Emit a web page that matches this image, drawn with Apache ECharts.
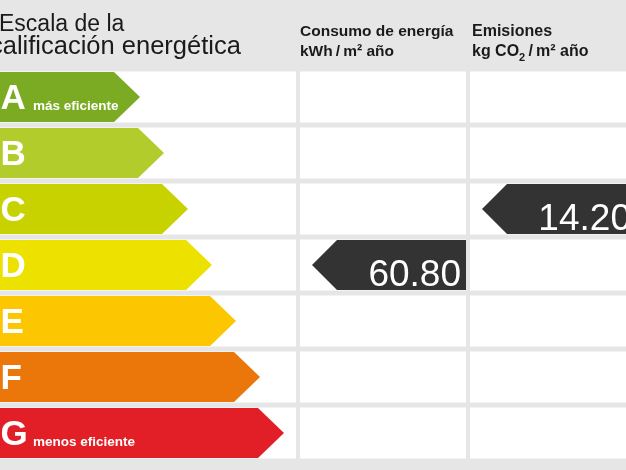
<!DOCTYPE html>
<html>
<head>
<meta charset="utf-8">
<script src="https://cdn.jsdelivr.net/npm/echarts@6/dist/echarts.min.js"></script>
<style>
  html, body { margin: 0; padding: 0; background: #e6e6e6; }
  #chart { width: 626px; height: 470px; }
</style>
</head>
<body>
<div id="chart"></div>
<script>
/* Escala de calificación energética */
const ratings = ['A', 'B', 'C', 'D', 'E', 'F', 'G'];
const ratingNotes = ['más eficiente', '', '', '', '', '', 'menos eficiente'];
// where each rating arrow ends on the scale (0 – 296)
const ratingReach = [140, 164, 188, 212, 236, 260, 284];
const indicators = ['Consumo de energía', 'Emisiones'];
const indicatorRatings = ['D', 'C'];
const indicatorValues = [60.80, 14.20];

const ratingColors = ['#7aab22', '#b2cc2c', '#c8d200', '#ede100', '#fcc600', '#eb7609', '#e21f26'];
const FONT = "'Liberation Sans', Arial, sans-serif";

const chart = echarts.init(document.getElementById('chart'));

function cellItem(params, api) {
  const c = api.coord([0, api.value(1)]);
  const band = api.size([0, 1])[1];
  const cs = params.coordSys;
  return {
    type: 'rect', silent: true,
    shape: { x: cs.x, y: c[1] - band / 2 + 2.5, width: cs.width, height: band - 5 },
    style: { fill: '#ffffff' }
  };
}

function ratingItem(params, api) {
  const idx = api.value(1);
  const tip = api.coord([api.value(0), idx]);
  const left = api.coord([0, idx])[0];
  const y = tip[1];
  const half = (api.size([0, 1])[1] - 6) / 2;
  const d = 26;
  const note = ratingNotes[params.dataIndex];
  return {
    type: 'group',
    children: [
      {
        type: 'polygon',
        shape: { points: [[left, y - half], [tip[0] - d, y - half], [tip[0], y], [tip[0] - d, y + half], [left, y + half]] },
        style: { fill: ratingColors[params.dataIndex] }
      },
      {
        type: 'text', x: left + 0.5, y: y + 2.5,
        style: { text: ratings[params.dataIndex], fill: '#fff', font: 'bold 35px ' + FONT, align: 'left', verticalAlign: 'middle' }
      },
      {
        type: 'text', x: left + 33, y: y + 9.7,
        style: { text: note, fill: '#fff', font: 'bold 13.5px ' + FONT, align: 'left', verticalAlign: 'middle' }
      }
    ]
  };
}

function markerItem(params, api) {
  const idx = api.value(1);
  const end = api.coord([api.value(0), idx]);
  const y = end[1];
  const half = (api.size([0, 1])[1] - 6) / 2;
  const tipX = params.coordSys.x + 12;
  const d = 25;
  return {
    type: 'group',
    children: [
      {
        type: 'polygon',
        shape: { points: [[tipX, y], [tipX + d, y - half], [end[0], y - half], [end[0], y + half], [tipX + d, y + half]] },
        style: { fill: '#333333' }
      },
      {
        type: 'text', x: end[0] - 5, y: y + 10.5,
        style: { text: api.value(2).toFixed(2), fill: '#fff', font: '37px ' + FONT, align: 'right', verticalAlign: 'middle' }
      }
    ]
  };
}

const cellData = ratings.map(r => [0, r]);
const grids = [
  { left: 0, top: 69, width: 296, height: 392 },
  { left: 300, top: 69, width: 166, height: 392 },
  { left: 470, top: 69, width: 156, height: 392 }
];

chart.setOption({
  backgroundColor: '#e6e6e6',
  animation: false,
  grid: grids,
  xAxis: [
    { gridIndex: 0, type: 'value', min: 0, max: 296, show: false },
    { gridIndex: 1, type: 'value', min: 0, max: 1, show: false },
    // the emissions column runs past the right edge of the picture
    { gridIndex: 2, type: 'value', min: 0, max: 0.94, show: false }
  ],
  yAxis: [0, 1, 2].map(g => ({ gridIndex: g, type: 'category', data: ratings, inverse: true, show: false })),
  graphic: [
    { type: 'text', x: -1, y: 24.3, style: { text: 'Escala de la', fill: '#1a1a1a', font: '23px ' + FONT, verticalAlign: 'middle' } },
    { type: 'text', x: -10, y: 47.3, style: { text: 'calificación energética', fill: '#1a1a1a', font: '25.5px ' + FONT, verticalAlign: 'middle' } },
    { type: 'text', x: 300, y: 32.2, style: { text: indicators[0], fill: '#1a1a1a', font: 'bold 15.5px ' + FONT, verticalAlign: 'middle' } },
    { type: 'text', x: 300, y: 52.2, style: { text: 'kWh\u2009/\u2009m² año', fill: '#1a1a1a', font: 'bold 15.5px ' + FONT, verticalAlign: 'middle' } },
    { type: 'text', x: 472, y: 31.9, style: { text: indicators[1], fill: '#1a1a1a', font: 'bold 16px ' + FONT, verticalAlign: 'middle' } },
    {
      type: 'text', x: 472, y: 52,
      style: {
        text: '{a|kg CO}{s|2}{a|\u2009/\u2009m² año}', fill: '#1a1a1a', verticalAlign: 'middle',
        rich: {
          a: { font: 'bold 16px ' + FONT, lineHeight: 22, fill: '#1a1a1a' },
          s: { font: 'bold 11px ' + FONT, lineHeight: 11, verticalAlign: 'bottom', fill: '#1a1a1a' }
        }
      }
    }
  ],
  series: [
    ...[0, 1, 2].map(g => ({
      type: 'custom', xAxisIndex: g, yAxisIndex: g, silent: true,
      renderItem: cellItem, encode: { x: 0, y: 1 }, data: cellData, z: 1
    })),
    {
      type: 'custom', xAxisIndex: 0, yAxisIndex: 0, z: 2,
      renderItem: ratingItem, encode: { x: 0, y: 1 },
      data: ratings.map((r, i) => [ratingReach[i], r])
    },
    ...indicators.map((name, k) => ({
      type: 'custom', name, xAxisIndex: k + 1, yAxisIndex: k + 1, z: 2, clip: false,
      renderItem: markerItem, encode: { x: 0, y: 1 },
      data: [[1, indicatorRatings[k], indicatorValues[k]]]
    }))
  ]
});
</script>
</body>
</html>
